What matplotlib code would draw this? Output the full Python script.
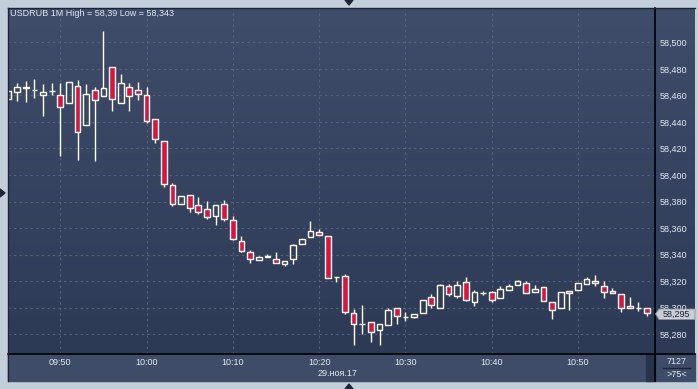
import numpy as np
import pandas as pd
import matplotlib
matplotlib.use('Agg')
import matplotlib.pyplot as plt
from matplotlib.colors import LinearSegmentedColormap
from matplotlib.patches import Rectangle, Polygon
from matplotlib.lines import Line2D

plt.rcParams['font.family'] = ['Liberation Sans', 'DejaVu Sans']

# ---------- Données (USDRUB, bougies 1 minute) ----------
opens = [58.4575, 58.4625, 58.4655, 58.4640, 58.4603, 58.4630, 58.4603, 58.4543, 58.4670, 58.4378,
         58.4640, 58.4595, 58.4813, 58.4543, 58.4663, 58.4640, 58.4603, 58.4420, 58.4255, 58.3923,
         58.3785, 58.3848, 58.3773, 58.3743, 58.3688, 58.3783, 58.3660, 58.3503, 58.3420, 58.3360,
         58.3383, 58.3368, 58.3330, 58.3368, 58.3480, 58.3533, 58.3570, 58.3540, 58.3233, 58.3240,
         58.2960, 58.2878, 58.2893, 58.2833, 58.2873, 58.2998, 58.2930, 58.2933, 58.2963, 58.3083,
         58.3000, 58.3165, 58.3090, 58.3195, 58.3045, 58.3113, 58.3120, 58.3072, 58.3137, 58.3173,
         58.3188, 58.3116, 58.3157, 58.3043, 58.3000, 58.3130, 58.3133, 58.3176, 58.3205, 58.3164,
         58.3130, 58.3101, 58.3014, 58.2998, 58.3000]
highs = [58.4635, 58.4690, 58.4705, 58.4725, 58.4685, 58.4690, 58.4693, 58.4700, 58.4718, 58.4688,
         58.4665, 58.5085, 58.4813, 58.4760, 58.4693, 58.4703, 58.4665, 58.4420, 58.4255, 58.3938,
         58.3840, 58.3848, 58.3835, 58.3805, 58.3775, 58.3813, 58.3693, 58.3543, 58.3433, 58.3390,
         58.3403, 58.3423, 58.3353, 58.3483, 58.3518, 58.3655, 58.3593, 58.3540, 58.3233, 58.3255,
         58.2988, 58.3018, 58.2893, 58.2880, 58.2995, 58.2998, 58.2968, 58.2955, 58.3060, 58.3103,
         58.3180, 58.3180, 58.3198, 58.3228, 58.3135, 58.3128, 58.3128, 58.3161, 58.3178, 58.3207,
         58.3205, 58.3169, 58.3157, 58.3043, 58.3116, 58.3130, 58.3188, 58.3229, 58.3248, 58.3198,
         58.3147, 58.3101, 58.3082, 58.3046, 58.3000]
lows = [58.4570, 58.4560, 58.4548, 58.4578, 58.4443, 58.4600, 58.4143, 58.4543, 58.4113, 58.4378,
        58.4105, 58.4595, 58.4480, 58.4543, 58.4480, 58.4563, 58.4390, 58.4240, 58.3910, 58.3770,
        58.3778, 58.3718, 58.3710, 58.3668, 58.3620, 58.3650, 58.3508, 58.3418, 58.3335, 58.3360,
        58.3383, 58.3338, 58.3313, 58.3330, 58.3480, 58.3533, 58.3548, 58.3223, 58.3193, 58.2955,
        58.2720, 58.2805, 58.2743, 58.2720, 58.2873, 58.2878, 58.2900, 58.2923, 58.2963, 58.3000,
        58.3000, 58.3090, 58.3073, 58.3053, 58.3013, 58.3098, 58.3040, 58.3072, 58.3137, 58.3173,
        58.3111, 58.3116, 58.3053, 58.2913, 58.3000, 58.2986, 58.3133, 58.3176, 58.3161, 58.3077,
        58.3111, 58.2971, 58.2995, 58.2973, 58.2937]
closes = [58.4630, 58.4660, 58.4665, 58.4640, 58.4623, 58.4630, 58.4513, 58.4700, 58.4325, 58.4610,
          58.4565, 58.4655, 58.4573, 58.4693, 58.4595, 58.4610, 58.4408, 58.4273, 58.3935, 58.3780,
          58.3840, 58.3748, 58.3718, 58.3683, 58.3775, 58.3665, 58.3518, 58.3428, 58.3368, 58.3383,
          58.3393, 58.3338, 58.3353, 58.3473, 58.3518, 58.3578, 58.3548, 58.3223, 58.3233, 58.2970,
          58.2880, 58.2878, 58.2820, 58.2880, 58.2985, 58.2938, 58.2930, 58.2955, 58.3060, 58.3023,
          58.3173, 58.3105, 58.3173, 58.3060, 58.3120, 58.3113, 58.3060, 58.3142, 58.3166, 58.3198,
          58.3111, 58.3145, 58.3053, 58.2986, 58.3116, 58.3111, 58.3188, 58.3219, 58.3190, 58.3116,
          58.3111, 58.3000, 58.2995, 58.2998, 58.2957]

times = pd.date_range("2017-11-29 09:44", periods=len(opens), freq="min")
last_price = "58,295"
title = "USDRUB 1M High = 58,39 Low = 58,343"
date_label = "29.ноя.17"
bars_count = "7127"
visible_bars = ">75<"

# ---------- Couleurs ----------
FRAME = "#c3cedb"
BG_TOP = "#3f4d6a"
BG_BOT = "#2d3a56"
BAND = "#3f4c68"
GRID = "#56647f"
TXT = "#e4eaf3"
RED = "#dc143c"

W, H = 698, 389

def fx(x):
    return x / W

def fy(y):
    return 1 - y / H

def frect(x0, y0, x1, y1):
    return [fx(x0), fy(y1), (x1 - x0) / W, (y1 - y0) / H]

fig = plt.figure(figsize=(W / 100, H / 100), dpi=100, facecolor=FRAME)

# fond dégradé (zone graphique + échelle de prix)
bg = fig.add_axes(frect(8, 8, 695, 354), zorder=0)
grad = np.linspace(0, 1, 256).reshape(-1, 1)
cmap = LinearSegmentedColormap.from_list("bg", [BG_TOP, BG_BOT])
bg.imshow(grad, aspect="auto", cmap=cmap, extent=[0, 1, 0, 1])
bg.axis("off")

# bandeau du bas
fig.patches.append(Rectangle((fx(8), fy(381)), (695 - 8) / W, 27 / H,
                             transform=fig.transFigure, color=BAND, zorder=0))
fig.patches.append(Rectangle((fx(646), fy(381)), 9 / W, 27 / H,
                             transform=fig.transFigure, color="#27334b", zorder=1))

ax = fig.add_axes(frect(8, 8, 655, 354), zorder=2)
ax.patch.set_alpha(0)

x = np.arange(len(opens))
o = np.array(opens)
h = np.array(highs)
l = np.array(lows)
c = np.array(closes)
top = np.maximum(o, c)
bot = np.minimum(o, c)
down = c < o

ax.vlines(x, top, h, color="white", lw=1, zorder=3)
ax.vlines(x, l, bot, color="white", lw=1, zorder=3)
ax.bar(x[down], (top - bot)[down], bottom=bot[down], width=0.66,
       color=RED, edgecolor="white", linewidth=1, zorder=4)
ax.bar(x[~down], (top - bot)[~down], bottom=bot[~down], width=0.66,
       color="none", edgecolor="white", linewidth=1, zorder=4)

ax.set_xlim(-0.06, 74.93)
ax.set_ylim(58.26516, 58.52584)

tick_idx = [i for i, t in enumerate(times) if t.minute % 10 == 0]
ax.set_xticks(tick_idx)
ax.set_xticklabels([times[i].strftime("%H:%M") for i in tick_idx])
yt = np.arange(58.28, 58.5001, 0.02)
ax.set_yticks(yt)
ax.set_yticklabels([f"{v:.3f}".replace(".", ",") for v in yt])
ax.yaxis.tick_right()
ax.tick_params(axis="both", length=0, labelsize=6.5, labelcolor=TXT)
ax.tick_params(axis="x", pad=3.2)
ax.tick_params(axis="y", pad=3)
ax.grid(True, color=GRID, linestyle=(0, (2, 3)), linewidth=0.8)
for s in ax.spines.values():
    s.set_visible(False)

# lignes de séparation
fig.lines.append(Line2D([fx(8), fx(695)], [fy(354), fy(354)], color="black", lw=1.2,
                        transform=fig.transFigure, zorder=5))
fig.lines.append(Line2D([fx(655), fx(655)], [fy(8), fy(381)], color="black", lw=1.2,
                        transform=fig.transFigure, zorder=5))
fig.lines.append(Line2D([fx(8), fx(8)], [fy(8), fy(381)], color="#1c2435", lw=1,
                        transform=fig.transFigure, zorder=5))
fig.lines.append(Line2D([fx(8), fx(695)], [fy(8), fy(8)], color="#1c2435", lw=1,
                        transform=fig.transFigure, zorder=5))
fig.lines.append(Line2D([fx(663), fx(690)], [fy(368), fy(368)], color="#1c2435", lw=1,
                        transform=fig.transFigure, zorder=5))

# textes
fig.text(fx(10), fy(14), title, fontsize=6.5, color=TXT, va="center", ha="left")
fig.text(fx(337), fy(373.5), date_label, fontsize=6.5, color=TXT, va="center", ha="center")
fig.text(fx(677), fy(361.5), bars_count, fontsize=6.5, color=TXT, va="center", ha="center")
fig.text(fx(677), fy(374.5), visible_bars, fontsize=6.5, color=TXT, va="center", ha="center")

# étiquette du dernier prix
fig.patches.append(Polygon([(fx(655.5), fy(314)), (fx(659), fy(309)), (fx(695), fy(309)),
                            (fx(695), fy(319.5)), (fx(659), fy(319.5))], closed=True,
                           transform=fig.transFigure, facecolor="#c9cdd4",
                           edgecolor="#8a909c", lw=0.6, zorder=6))
fig.text(fx(676.5), fy(314.5), last_price, fontsize=6.5, color="#1a1f2b",
         va="center", ha="center", zorder=7)

# petits triangles du cadre
for pts in ([(345, 0), (353, 0), (349, 5)],
            [(0, 189), (0, 197), (5, 193)],
            [(345, 389), (353, 389), (349, 384)]):
    fig.patches.append(Polygon([(fx(a), fy(b)) for a, b in pts], closed=True,
                               transform=fig.transFigure, color="#1c2435", zorder=6))

fig.savefig("out.png", dpi=100, facecolor=FRAME)
